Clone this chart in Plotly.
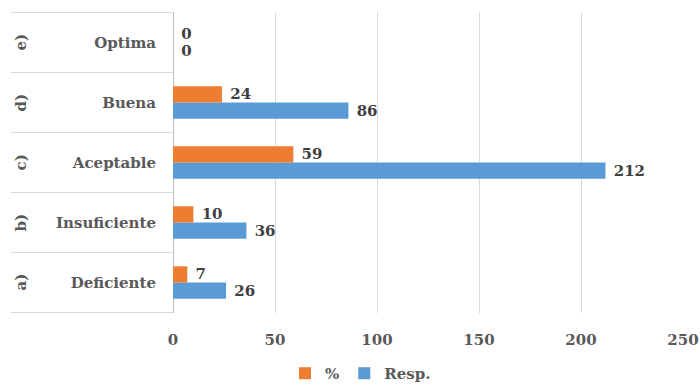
import plotly.graph_objects as go

# Survey responses by rating level
categories = ["Deficiente", "Insuficiente", "Aceptable", "Buena", "Optima"]
letters = ["a)", "b)", "c)", "d)", "e)"]
pct = [7, 10, 59, 24, 0]
resp = [26, 36, 212, 86, 0]
x_ticks = [0, 50, 100, 150, 200, 250]

FONT = "DejaVu Serif"
ORANGE = "#ED7D31"
BLUE = "#5B9BD5"
GRID = "#D9D9D9"
LABEL = "#595959"
VALUE = "#404040"

fig = go.Figure()

# Resp. first so it sits below % inside each group
fig.add_bar(
    y=categories, x=resp, orientation="h", name="Resp.",
    marker=dict(color=BLUE, line=dict(width=0)),
    text=resp, texttemplate="\u00a0%{x}", textposition="outside",
    constraintext="none", cliponaxis=False,
    outsidetextfont=dict(family=FONT, size=15, color=VALUE, weight="bold"),
)
fig.add_bar(
    y=categories, x=pct, orientation="h", name="%",
    marker=dict(color=ORANGE, line=dict(width=0)),
    text=pct, texttemplate="\u00a0%{x}", textposition="outside",
    constraintext="none", cliponaxis=False,
    outsidetextfont=dict(family=FONT, size=15, color=VALUE, weight="bold"),
)

L, R, T, B = 173, 17, 12, 72
W, H = 700, 385
plot_w = W - L - R
left_edge = (11 - L) / plot_w

shapes = []
# Group separators across the label area
for i in range(len(categories) + 1):
    shapes.append(dict(
        type="line", xref="paper", yref="y",
        x0=left_edge, x1=0, y0=i - 0.5, y1=i - 0.5,
        line=dict(color=GRID, width=1),
    ))

annotations = []
for cat, let in zip(categories, letters):
    annotations.append(dict(
        xref="paper", yref="y", x=(20 - L) / plot_w, y=cat,
        text=let, showarrow=False, textangle=-90,
        xanchor="center", yanchor="middle",
        font=dict(family=FONT, size=15, color=LABEL, weight="bold"),
    ))

fig.update_layout(
    width=W, height=H,
    margin=dict(l=L, r=R, t=T, b=B, autoexpand=False),
    paper_bgcolor="white", plot_bgcolor="white",
    barmode="group", bargap=0.46, bargroupgap=0,
    font=dict(family=FONT, size=15, color=LABEL, weight="bold"),
    xaxis=dict(
        range=[0, 250], tickvals=x_ticks, ticktext=[str(v) for v in x_ticks],
        showgrid=True, gridcolor=GRID, gridwidth=1,
        zeroline=True, zerolinecolor="#BFBFBF", zerolinewidth=1,
        showline=False, ticks="", ticklabelstandoff=16, automargin=False,
        tickfont=dict(family=FONT, size=15, color=LABEL, weight="bold"),
        fixedrange=True,
    ),
    yaxis=dict(
        type="category", categoryorder="array", categoryarray=categories,
        showgrid=False, zeroline=False, showline=False, ticks="",
        ticklabelstandoff=16, automargin=False,
        tickfont=dict(family=FONT, size=15, color=LABEL, weight="bold"),
        fixedrange=True,
    ),
    legend=dict(
        orientation="h", traceorder="reversed",
        xref="container", yref="container",
        x=0.515, y=0.03, xanchor="center", yanchor="middle",
        font=dict(family=FONT, size=15, color=LABEL, weight="bold"),
        itemwidth=30, tracegroupgap=0,
    ),
    shapes=shapes,
    annotations=annotations,
)

fig.write_html("out.html")
